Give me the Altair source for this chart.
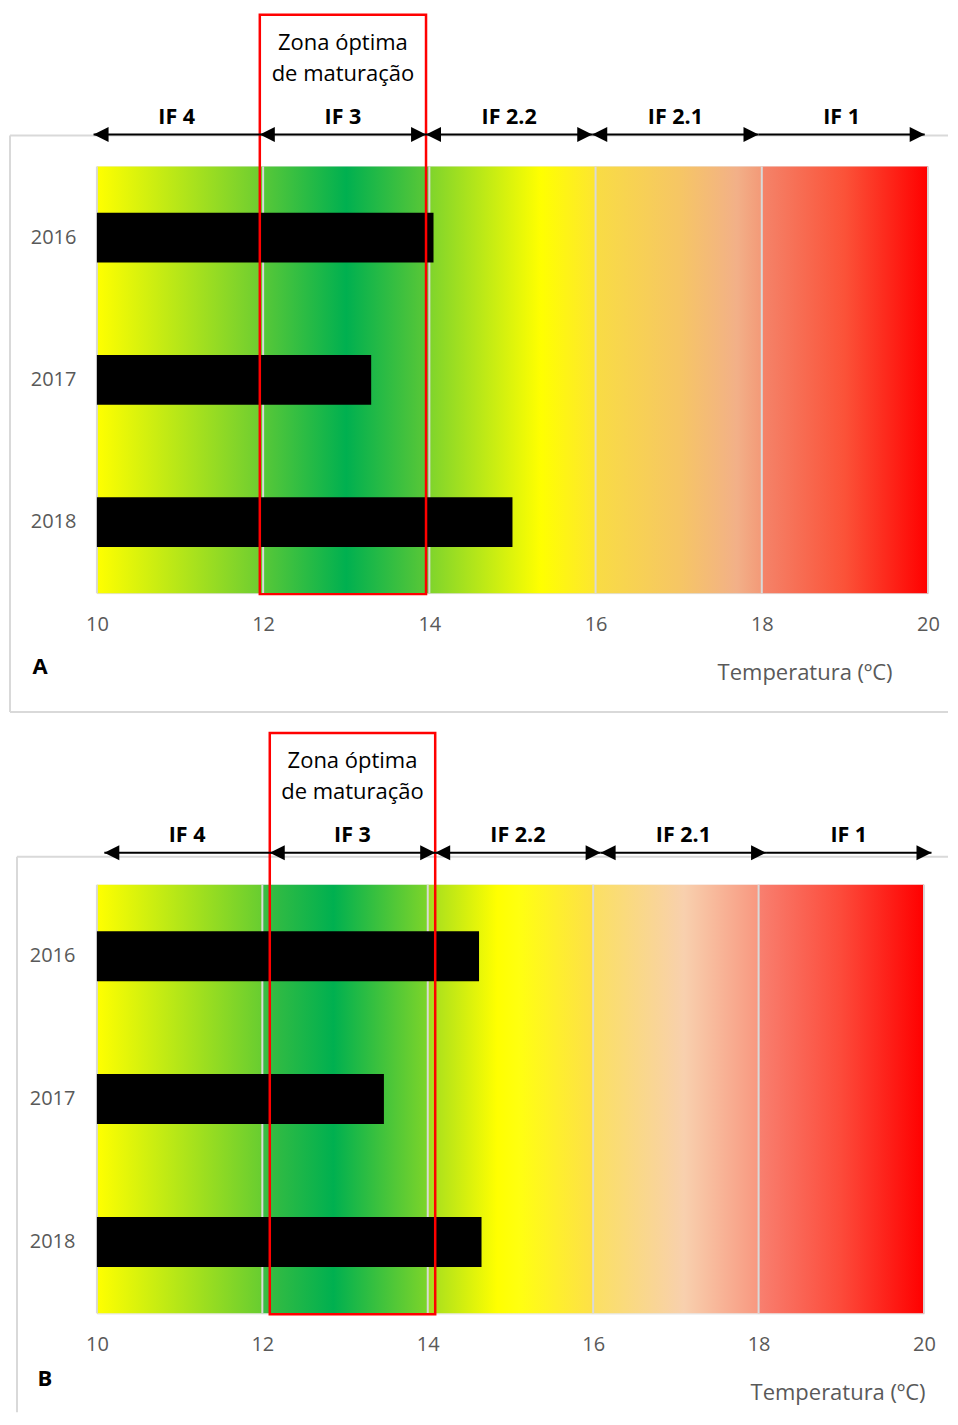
import altair as alt
import pandas as pd

# ---------------- data ----------------
YEARS = ["2016", "2017", "2018"]
TEMP_A = [14.05, 13.30, 15.00]
TEMP_B = [14.62, 13.47, 14.65]
TICKS = [10, 12, 14, 16, 18, 20]
ZONE_LABELS = ["IF 4", "IF 3", "IF 2.2", "IF 2.1", "IF 1"]
ZONE_EDGES = [10, 12, 14, 16, 18, 20]
LEFT_HEAD_EDGES = [10, 12, 14, 16]
RIGHT_HEAD_EDGES = [14, 16, 18, 20]
OPTIMAL_ZONE = [12, 14]
ZONE_TITLE = "Zona óptima\nde maturação"
AXIS_TITLE = "Temperatura (ºC)"
PANEL_LETTERS = ["A", "B"]

# ---------------- style ----------------
FONT = "Open Sans"
GREY = "#595959"
GRID = "#d9d9d9"
GRAD_A = [(0.0, "#ffff00"), (0.199, "#6ccd31"), (0.2, "#58c838"), (0.3, "#00b050"),
          (0.399, "#5cc836"), (0.4, "#7ed42c"), (0.534, "#ffff00"), (0.599, "#fde630"),
          (0.6, "#f9dc44"), (0.7, "#f6c664"), (0.77, "#f2b088"), (0.799, "#f39a78"),
          (0.8, "#f4846a"), (0.9, "#fb5238"), (1.0, "#ff0000")]
GRAD_B = [(0.0, "#ffff00"), (0.199, "#68cd30"), (0.2, "#3cbd40"), (0.286, "#00b050"),
          (0.399, "#7cd42a"), (0.4, "#a2dd20"), (0.484, "#ffff00"), (0.51, "#ffff10"),
          (0.599, "#fde048"), (0.6, "#fbe062"), (0.71, "#f8d0ae"), (0.799, "#f89880"),
          (0.8, "#f88070"), (0.9, "#fc4a3a"), (1.0, "#ff0000")]

LEFT_HEAD = "M0,0L2,-1L2,1Z"
RIGHT_HEAD = "M0,0L-2,-1L-2,1Z"


def panel(temps, stops, shift, letter, w, h, letter_xy, title_x, ylab_pad,
          frame_left, frame_top, frame_bottom, frame_right, bottom_line):
    xscale = alt.Scale(domain=[TICKS[0], TICKS[-1]], nice=False, zero=False)
    xaxis = alt.Axis(values=TICKS, format="d", domain=False, ticks=False, grid=False,
                     labelColor=GREY, labelFontSize=20, labelFont=FONT,
                     labelPadding=21, labelFlush=False, labelOverlap=False,
                     title=AXIS_TITLE, titleFont=FONT, titleFontSize=22,
                     titleFontWeight="normal", titleColor=GREY,
                     titleAnchor="end", titleAlign="right", titleBaseline="middle",
                     titleX=title_x, titleY=79)
    one = pd.DataFrame({"k": [0]})

    def X(field):
        return alt.X(field, scale=xscale, axis=xaxis, title=AXIS_TITLE)

    bg_df = pd.DataFrame({"lo": [TICKS[0]], "hi": [TICKS[-1]]})
    bg = alt.Chart(bg_df).mark_rect(
        color=alt.LinearGradient(
            gradient="linear", x1=0, x2=1, y1=0, y2=0,
            stops=[alt.GradientStop(offset=o, color=c) for o, c in stops])
    ).encode(x=X("lo:Q"), x2="hi:Q", y=alt.value(0), y2=alt.value(h))

    grid_df = pd.DataFrame({"t": TICKS})
    grid = alt.Chart(grid_df).mark_rule(color=GRID, strokeWidth=2).encode(
        x=X("t:Q"), y=alt.value(0), y2=alt.value(h))

    bars_df = pd.DataFrame({"year": YEARS, "temp": temps, "base": [TICKS[0]] * len(YEARS)})
    bars = alt.Chart(bars_df).mark_bar(color="black").encode(
        x=X("temp:Q"),
        x2="base:Q",
        y=alt.Y("year:N", scale=alt.Scale(domain=YEARS, paddingInner=0.65, paddingOuter=0.325),
                axis=alt.Axis(title=None, domain=False, ticks=False, labelColor=GREY,
                              labelFontSize=20, labelFont=FONT, labelPadding=ylab_pad)))

    box_df = pd.DataFrame({"lo": [OPTIMAL_ZONE[0] + shift], "hi": [OPTIMAL_ZONE[1] + shift]})
    box = alt.Chart(box_df).mark_rect(filled=False, stroke="#ff0000", strokeWidth=2.5).encode(
        x=X("lo:Q"), x2="hi:Q", y=alt.value(-152), y2=alt.value(h + 1))

    ztitle_df = pd.DataFrame({"mid": [sum(OPTIMAL_ZONE) / 2 + shift], "text": [ZONE_TITLE]})
    ztitle = alt.Chart(ztitle_df).mark_text(
        lineBreak="\n", lineHeight=31, fontSize=22, font=FONT, color="black", baseline="middle"
    ).encode(x=X("mid:Q"), y=alt.value(-124), text="text:N")

    zones_df = pd.DataFrame({
        "label": ZONE_LABELS,
        "lo": [e + shift for e in ZONE_EDGES[:-1]],
        "hi": [e + shift for e in ZONE_EDGES[1:]],
    })
    zones_df["mid"] = (zones_df["lo"] + zones_df["hi"]) / 2
    lines = alt.Chart(zones_df).mark_rule(color="black", strokeWidth=2).encode(
        x=X("lo:Q"), x2="hi:Q", y=alt.value(-32))
    zlabels = alt.Chart(zones_df).mark_text(
        fontSize=21.5, fontWeight="bold", font=FONT, color="black", baseline="middle"
    ).encode(x=X("mid:Q"), y=alt.value(-49), text="label:N")

    lh_df = pd.DataFrame({"x": [e + shift for e in LEFT_HEAD_EDGES]})
    rh_df = pd.DataFrame({"x": [e + shift for e in RIGHT_HEAD_EDGES]})
    lheads = alt.Chart(lh_df).mark_point(shape=LEFT_HEAD, size=225, filled=True,
                                         color="black", opacity=1).encode(
        x=X("x:Q"), y=alt.value(-32))
    rheads = alt.Chart(rh_df).mark_point(shape=RIGHT_HEAD, size=225, filled=True,
                                         color="black", opacity=1).encode(
        x=X("x:Q"), y=alt.value(-32))

    letter_df = pd.DataFrame({"t": [letter]})
    ltxt = alt.Chart(letter_df).mark_text(
        fontSize=22, fontWeight="bold", font=FONT, color="black", baseline="middle"
    ).encode(x=alt.value(letter_xy[0]), y=alt.value(letter_xy[1]), text="t:N")

    frame = [
        alt.Chart(one).mark_rule(color=GRID, strokeWidth=2).encode(
            x=alt.value(frame_left), y=alt.value(frame_top), y2=alt.value(frame_bottom)),
        alt.Chart(one).mark_rule(color=GRID, strokeWidth=2).encode(
            x=alt.value(frame_left), x2=alt.value(frame_right), y=alt.value(frame_top)),
    ]
    if bottom_line:
        frame.append(alt.Chart(one).mark_rule(color=GRID, strokeWidth=2).encode(
            x=alt.value(frame_left), x2=alt.value(frame_right), y=alt.value(frame_bottom)))

    return alt.layer(bg, grid, bars, *frame, box, ztitle, lines, lheads, rheads,
                     zlabels, ltxt).properties(width=w, height=h)


pa = panel(TEMP_A, GRAD_A, -0.04, PANEL_LETTERS[0], 832, 427, (-57, 501), 796, 21,
           -87, -31, 546, 852, True)
pb = panel(TEMP_B, GRAD_B, 0.09, PANEL_LETTERS[1], 828, 429, (-52, 495), 829, 22,
           -80, -28, 528, 852, False)

chart = alt.vconcat(pa, pb, spacing=17).properties(
    padding={"left": 0, "top": 4, "right": 0, "bottom": 0}
).configure_view(stroke=None).configure(background="white")

chart.save("out.html", embed_options={"renderer": "svg", "actions": False})
